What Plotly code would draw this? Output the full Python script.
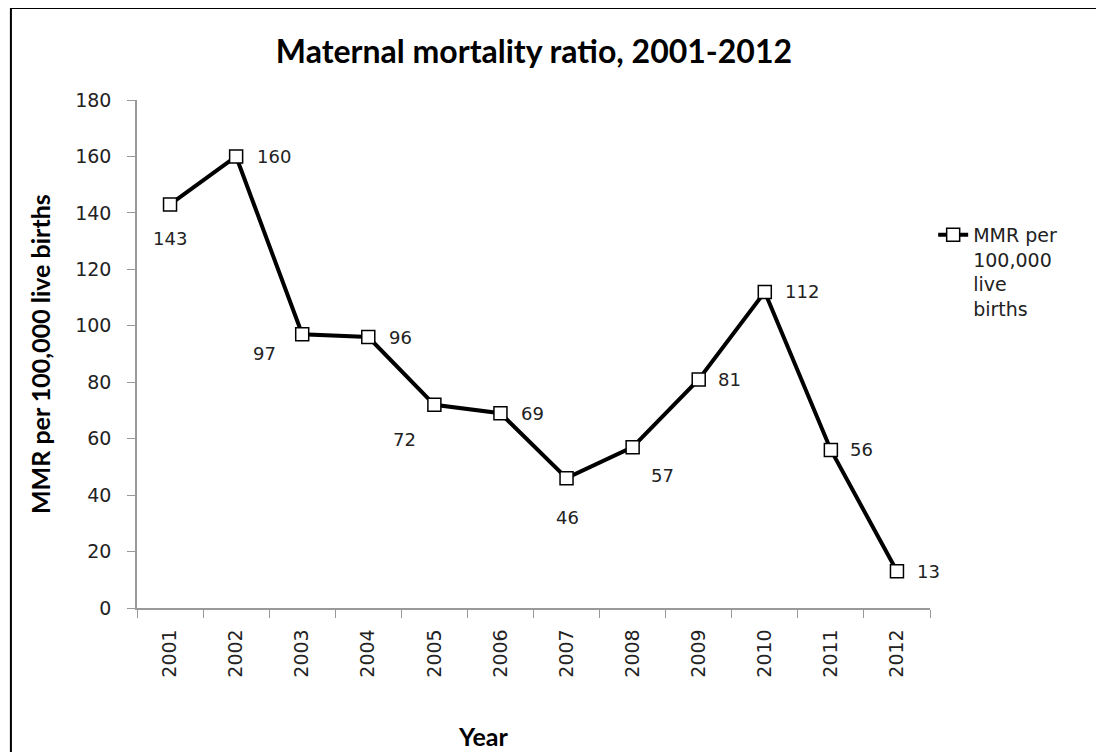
import plotly.graph_objects as go

years = ["2001", "2002", "2003", "2004", "2005", "2006", "2007", "2008", "2009", "2010", "2011", "2012"]
mmr = [143, 160, 97, 96, 72, 69, 46, 57, 81, 112, 56, 13]
series_name = "MMR per<br>100,000<br>live<br>births"

# label offsets (pixels) for the data labels, per point
label_dx = [0, 38, -38, 32, -30, 32, 1, 30, 31, 37, 31, 32]
label_dy = [-34, 0, -19, 0, -35, 0, -39, -28, 0, 0, 0, 0]

fig = go.Figure()
fig.add_trace(go.Scatter(
    x=years, y=mmr, mode="lines+markers", name=series_name,
    line=dict(color="black", width=4),
    marker=dict(symbol="square", size=13, color="white", line=dict(color="black", width=1.5)),
))

annotations = []
for i, (y, dx, dy) in enumerate(zip(mmr, label_dx, label_dy)):
    annotations.append(dict(x=i, y=y, xref="x", yref="y", text=str(y), showarrow=False,
                            xshift=dx, yshift=dy,
                            font=dict(family="DejaVu Sans", size=18, color="#222")))

annotations.append(dict(text="MMR per 100,000 live births", xref="paper", yref="paper",
                        x=-0.1223, y=0.5, xanchor="center", yanchor="middle",
                        textangle=-90, showarrow=False,
                        font=dict(family="Lato", size=25, color="black", weight="bold")))
annotations.append(dict(text="Year", xref="paper", yref="paper", x=0.436, y=-0.252,
                        showarrow=False, xanchor="center", yanchor="middle",
                        font=dict(family="Lato", size=25, color="black", weight="bold")))

fig.update_layout(
    width=1104, height=752,
    margin=dict(l=129, r=182, t=92, b=152),
    paper_bgcolor="white", plot_bgcolor="white",
    title=dict(text="Maternal mortality ratio, 2001-2012", x=0.4764, xanchor="center",
               y=0.9415, yanchor="middle",
               font=dict(family="Lato", size=32, color="black", weight="bold")),
    showlegend=True,
    legend=dict(x=1.004, y=0.772, xanchor="left", yanchor="top", valign="top",
                font=dict(family="DejaVu Sans", size=19, color="#222"),
                bgcolor="rgba(0,0,0,0)"),
    annotations=annotations,
    shapes=[dict(type="rect", xref="paper", yref="paper", x0=-0.159, x1=1.25, y0=-0.35, y1=1.181,
                 line=dict(color="black", width=2), layer="below")],
)
fig.update_xaxes(type="category", range=[-0.5, 11.5], showline=True, linecolor="#999", linewidth=1.5,
                 ticks="outside", ticklen=8, tickcolor="#999", tickson="boundaries",
                 tickangle=-90, showgrid=False, zeroline=False, ticklabelstandoff=12,
                 tickfont=dict(family="DejaVu Sans", size=19, color="#222"))
fig.update_yaxes(range=[0, 180], dtick=20, showline=True, linecolor="#999", linewidth=1.5,
                 ticks="outside", ticklen=8, tickcolor="#999", showgrid=False, zeroline=False,
                 ticklabelstandoff=12,
                 tickfont=dict(family="DejaVu Sans", size=19, color="#222"))

fig.write_html("out.html")
